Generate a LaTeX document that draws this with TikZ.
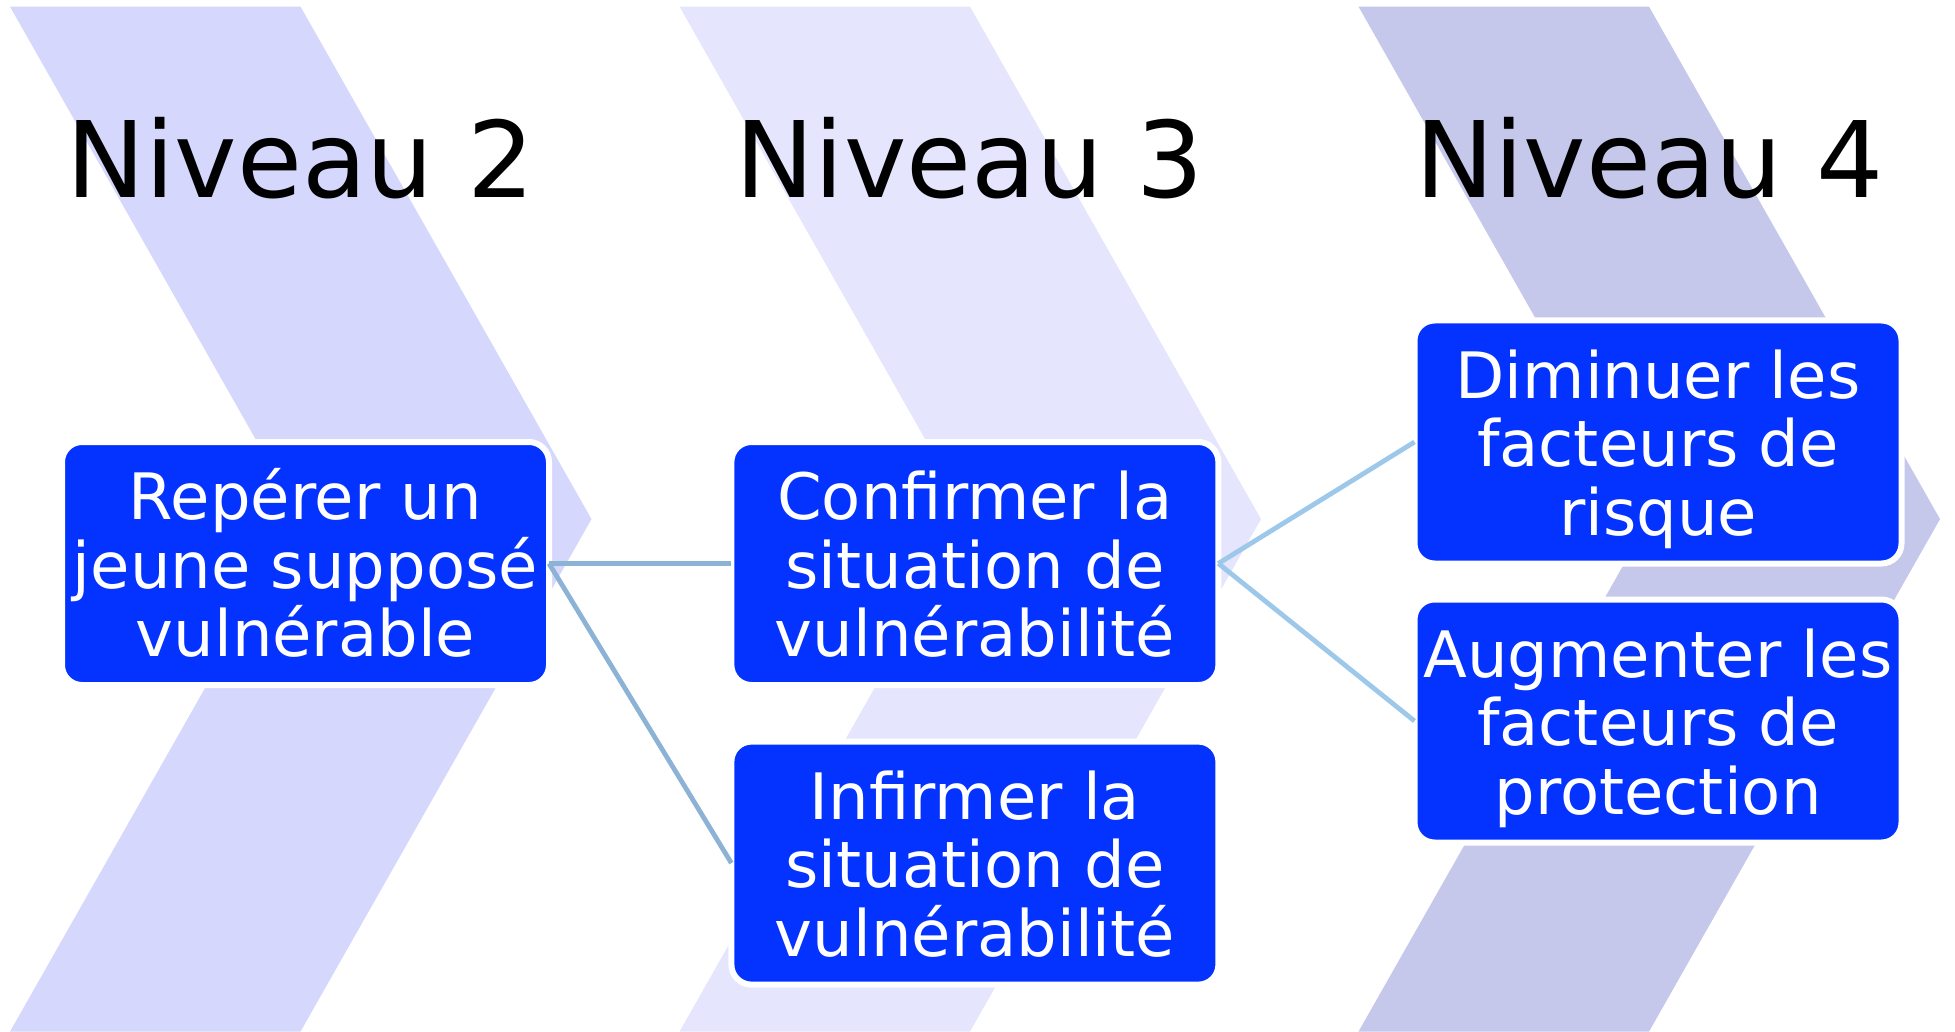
\documentclass[tikz,border=0pt]{standalone}
\usepackage{fontspec}
\setmainfont{DejaVu Sans}
\usepackage{tikz}
\usetikzlibrary{positioning}
\definecolor{ChevA}{HTML}{D6D7FC}
\definecolor{ChevB}{HTML}{E5E5FD}
\definecolor{ChevC}{HTML}{C5C7EB}
\definecolor{BoxBlue}{HTML}{0433FF}
\definecolor{LinkA}{HTML}{8CB3D5}
\definecolor{LinkB}{HTML}{9DC8EA}

\begin{document}
\begin{tikzpicture}[
  x=0.5pt,y=-0.5pt,
  level/.style={anchor=base,text=black,font=\fontsize{52.8}{60}\selectfont},
  box/.style={
    draw=white,fill=BoxBlue,line width=3pt,rounded corners=10pt,
    minimum width=243.5pt,minimum height=121.5pt,outer sep=0pt,
    inner sep=0pt,align=center,text=white,
    font=\fontsize{32}{34.3}\selectfont,
    text height=93.2pt,text depth=0pt
  },
  link/.style={draw=LinkA,line width=2.4pt},
  linkb/.style={draw=LinkB,line width=2.4pt}
]
  \useasboundingbox (0,0) rectangle (1955,1032);

  % chevrons in the background
  \foreach \x/\c in {10/ChevA,679.5/ChevB,1358.5/ChevC}
    \fill[\c] (\x,6.6) -- ++(290.5,0) -- ++(291,512.5) -- ++(-291,512.5)
      -- ++(-290.5,0) -- ++(291,-512.5) -- cycle;

  \node[level] (lvl2) at (300.5,197.5) {Niveau 2};
  \node[level] (lvl3) at (970,197.5) {Niveau 3};
  \node[level] (lvl4) at (1649.5,197.5) {Niveau 4};

  \node[box] (reperer) at (305.5,563.5) {Repérer un\\jeune supposé\\vulnérable};
  \node[box,right=91.2pt of reperer] (confirmer) {Confirmer la\\situation de\\vulnérabilité};
  \node[box,below=28.3pt of confirmer] (infirmer) {Infirmer la\\situation de\\vulnérabilité};
  \node[box] (diminuer) at (1658,442) {Diminuer les\\facteurs de\\risque};
  \node[box,below=18pt of diminuer] (augmenter) {Augmenter les\\facteurs de\\protection};

  \draw[link] (reperer.east) -- (confirmer.west);
  \draw[link] (reperer.east) -- (infirmer.west);
  \draw[linkb] (confirmer.east) -- (diminuer.west);
  \draw[linkb] (confirmer.east) -- (augmenter.west);
\end{tikzpicture}
\end{document}
